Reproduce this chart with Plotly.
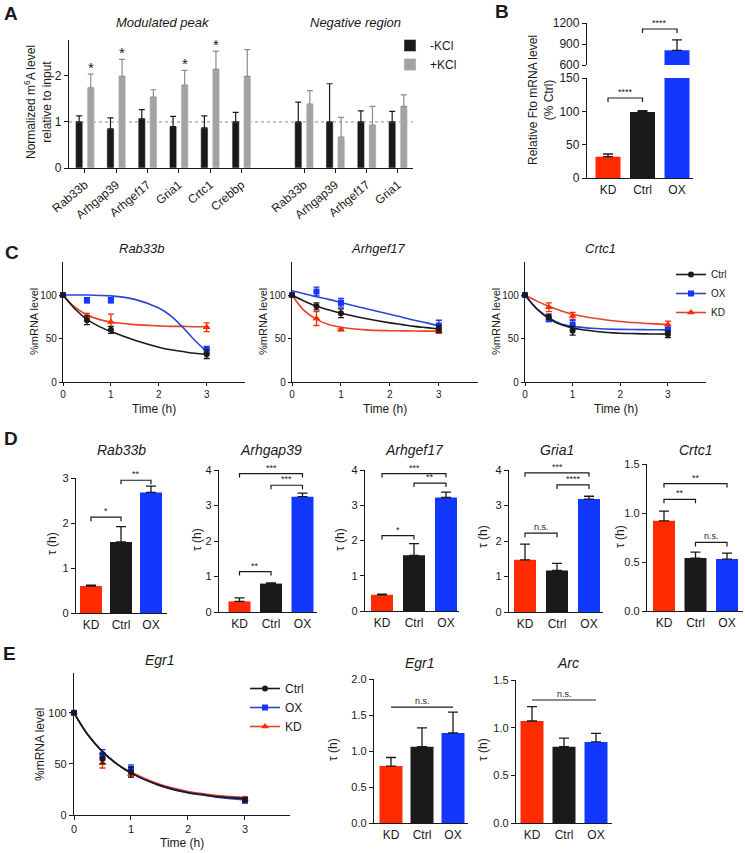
import plotly.graph_objects as go

W, H = 745, 853
FONT = "Liberation Sans, Arial, sans-serif"
INK = "#1a1a1a"
RED = "#ff2a00"
BLUE = "#1238ff"
GREY = "#a3a3a3"
LINE_RED = "#e8402c"
LINE_BLUE = "#2a45d6"

# ---------- A: m6A enrichment ----------
a_labels = ["Rab33b", "Arhgap39", "Arhgef17", "Gria1", "Crtc1", "Crebbp",
            "Rab33b", "Arhgap39", "Arhgef17", "Gria1"]
a_pos = [0, 1, 2, 3, 4, 5, 7, 8, 9, 10]
a_minus = [1.0, 0.85, 1.07, 0.9, 0.87, 1.0, 1.0, 1.0, 1.0, 1.0]
a_minus_err = [0.13, 0.24, 0.2, 0.22, 0.26, 0.21, 0.43, 0.83, 0.24, 0.23]
a_plus = [1.74, 1.99, 1.54, 1.8, 2.14, 1.99, 1.39, 0.67, 0.93, 1.34]
a_plus_err = [0.3, 0.37, 0.16, 0.32, 0.4, 0.58, 0.29, 0.43, 0.41, 0.25]
a_sig = ["*", "*", "", "*", "*", "", "", "", "", ""]

# ---------- B: Fto mRNA ----------
groups = ["KD", "Ctrl", "OX"]
b_vals = [32, 99, 810]
b_err = [4, 2, 150]

# ---------- C / E: decay time courses ----------
t_pts = [0, 0.5, 1, 3]
t_fit = [0, 0.25, 0.5, 0.75, 1, 1.5, 2, 2.25, 2.5, 2.75, 3]

rab33b_pts = {"Ctrl": [100, 71, 60, 32], "OX": [100, 94, 94, 37], "KD": [100, 76, 69, 63]}
rab33b_err = {"Ctrl": [0, 5, 4, 5], "OX": [0, 3, 3, 4], "KD": [0, 3, 9, 5]}
rab33b_fit = {"Ctrl": [100, 84, 72, 64, 58, 48, 40, 37, 35, 33, 32],
              "OX": [100, 100, 100, 99.5, 99, 95, 85, 76, 63, 48, 35],
              "KD": [100, 86, 77, 72, 69, 66, 64.5, 64, 64, 63.5, 63.5]}

arhgef17_pts = {"Ctrl": [100, 87, 79, 61], "OX": [100, 104, 91, 65], "KD": [100, 73, 60, 59]}
arhgef17_err = {"Ctrl": [0, 4, 5, 4], "OX": [0, 5, 5, 6], "KD": [0, 8, 1, 3]}
arhgef17_fit = {"Ctrl": [100, 93, 87, 83, 79, 73, 68, 66, 64, 62.5, 61],
                "OX": [105, 101.5, 98, 95, 91.5, 84.5, 78, 74.5, 71, 68, 64.5],
                "KD": [100, 82, 72, 66, 63, 60, 59, 58.8, 58.6, 58.5, 58.5]}

crtc1_pts = {"Ctrl": [100, 75, 59, 55], "OX": [100, 72, 66, 60], "KD": [100, 86, 76, 66]}
crtc1_err = {"Ctrl": [0, 3, 5, 4], "OX": [0, 2, 5, 3], "KD": [0, 5, 4, 4]}
crtc1_fit = {"Ctrl": [100, 84, 73, 66, 62, 58, 56, 55.7, 55.4, 55.2, 55],
             "OX": [100, 84, 74, 67, 64, 61.5, 60.5, 60.3, 60.2, 60.1, 60],
             "KD": [100, 93, 87, 82, 78, 73, 69.5, 68.5, 67.5, 66.8, 66]}

egr1_pts = {"Ctrl": [100, 55, 42, 15], "OX": [100, 59, 45, 14], "KD": [100, 51, 40, 16]}
egr1_err = {"Ctrl": [0, 5, 5, 2], "OX": [0, 5, 4, 2], "KD": [0, 5, 3, 2]}
egr1_fit = {"Ctrl": [100, 78, 62, 50, 41, 29, 22, 20, 18, 17, 16],
            "OX": [100, 78, 62, 50, 41, 29, 21.5, 19.5, 17.5, 16, 15],
            "KD": [100, 78, 62, 50, 42, 30, 23, 21, 19, 18, 17]}

# ---------- D: half-lives ----------
d_genes = ["Rab33b", "Arhgap39", "Arhgef17", "Gria1", "Crtc1"]
d_tau = [[0.6, 1.58, 2.68], [0.3, 0.8, 3.25], [0.46, 1.58, 3.22], [1.47, 1.17, 3.18], [0.92, 0.54, 0.53]]
d_err = [[0.02, 0.34, 0.14], [0.1, 0.02, 0.1], [0.02, 0.33, 0.15], [0.44, 0.2, 0.08], [0.1, 0.06, 0.06]]
d_ymax = [3, 4, 4, 4, 1.5]
d_sig = [[(0, 2, 3.2, "***"), (1, 2, 2.95, "**"), (0, 1, 2.13, "*")],
         [(0, 2, 3.9, "***"), (1, 2, 3.57, "***"), (0, 1, 1.14, "**")],
         [(0, 2, 3.9, "***"), (1, 2, 3.63, "**"), (0, 1, 2.14, "*")],
         [(0, 2, 3.92, "***"), (1, 2, 3.58, "****"), (0, 1, 2.22, "n.s.")],
         [(0, 2, 1.30, "**"), (0, 1, 1.14, "**"), (1, 2, 0.70, "n.s.")]]

# ---------- E: half-lives ----------
e_genes = ["Egr1", "Arc"]
e_tau = [[0.79, 1.06, 1.25], [1.07, 0.8, 0.85]]
e_err = [[0.12, 0.26, 0.29], [0.15, 0.09, 0.09]]
e_ymax = [2.0, 1.5]
e_ns = [1.61, 1.29]

bar_colors = [RED, INK, BLUE]
series_style = {"Ctrl": (INK, INK, "circle", 6),
                "OX": (BLUE, LINE_BLUE, "square", 6),
                "KD": (RED, LINE_RED, "triangle-up", 7)}

fig = go.Figure()
n_axes = [0]


def axis_style(**kw):
    base = dict(showline=True, linecolor=INK, linewidth=1.3, ticks="outside", ticklen=4,
                tickwidth=1.3, tickcolor=INK, showgrid=False, zeroline=False,
                tickfont=dict(size=11, color=INK), fixedrange=True)
    base.update(kw)
    return base


def add_axes(box, xkw, ykw):
    # box in pixels: left, top, right, bottom
    n_axes[0] += 1
    sfx = "" if n_axes[0] == 1 else str(n_axes[0])
    left, top, right, bottom = box
    fig.update_layout(**{
        "xaxis" + sfx: axis_style(domain=[left / W, right / W], anchor="y" + sfx, **xkw),
        "yaxis" + sfx: axis_style(domain=[1 - bottom / H, 1 - top / H], anchor="x" + sfx, **ykw),
    })
    return "x" + sfx, "y" + sfx


def text(xpx, ypx, s, size=12, angle=0, **kw):
    fig.add_annotation(x=xpx / W, y=1 - ypx / H, xref="paper", yref="paper", text=s,
                       showarrow=False, textangle=angle, font=dict(size=size, color=INK),
                       xanchor="center", yanchor="middle", **kw)


def bracket(xa, ya, i, j, y, label, unit_px, ends=True):
    d = 4 / unit_px
    path = f"M{i},{y - d} L{i},{y} L{j},{y} L{j},{y - d}" if ends else f"M{i},{y} L{j},{y}"
    fig.add_shape(type="path", path=path, xref=xa, yref=ya, line=dict(color=INK, width=1.2))
    fig.add_annotation(x=(i + j) / 2, y=y, xref=xa, yref=ya, text=label, showarrow=False,
                       yanchor="bottom", font=dict(size=9, color=INK), yshift=-1)


def tau_bars(xa, ya, vals, errs, width):
    fig.add_trace(go.Bar(x=[0, 1, 2], y=vals, width=width, xaxis=xa, yaxis=ya, showlegend=False,
                         marker=dict(color=bar_colors, line_width=0),
                         error_y=dict(type="data", array=errs, arrayminus=[0, 0, 0], symmetric=False,
                                      color=INK, thickness=1.3, width=5)))


def decay_panel(xa, ya, pts, errs, fit, legend=None):
    for name in ["KD", "OX", "Ctrl"]:
        mcol, lcol, sym, size = series_style[name]
        fig.add_trace(go.Scatter(x=t_fit, y=fit[name], mode="lines", line=dict(color=lcol, width=1.6, shape="spline"),
                                 xaxis=xa, yaxis=ya, showlegend=False, hoverinfo="skip"))
        fig.add_trace(go.Scatter(x=t_pts, y=pts[name], mode="markers", cliponaxis=False,
                                 marker=dict(color=mcol, symbol=sym, size=size),
                                 error_y=dict(type="data", array=errs[name], color=mcol, thickness=1.3, width=3),
                                 xaxis=xa, yaxis=ya, showlegend=False))
    if legend:
        for name in ["Ctrl", "OX", "KD"]:
            mcol, lcol, sym, size = series_style[name]
            fig.add_trace(go.Scatter(x=[None], y=[None], mode="lines+markers", name=name, legend=legend,
                                     line=dict(color=lcol, width=1.6), marker=dict(color=mcol, symbol=sym, size=size),
                                     xaxis=xa, yaxis=ya))


# ===== A =====
xa, ya = add_axes((69, 40, 413, 168),
                  dict(range=[-0.51, 10.48], tickvals=a_pos, ticktext=a_labels, tickangle=-40,
                       tickfont=dict(size=12, color=INK)),
                  dict(range=[0, 2.78], tickvals=[0, 1, 2], tickfont=dict(size=12, color=INK)))
fig.add_shape(type="line", x0=-0.51, x1=10.48, y0=1, y1=1, xref=xa, yref=ya, layer="below",
              line=dict(color="#888888", width=1, dash="dot"))
fig.add_trace(go.Bar(x=[p - 0.185 for p in a_pos], y=a_minus, width=0.23, name="-KCl", marker_color=INK,
                     error_y=dict(type="data", array=a_minus_err, arrayminus=[0] * 10, symmetric=False,
                                  color=INK, thickness=1.2, width=3),
                     xaxis=xa, yaxis=ya, legend="legend"))
fig.add_trace(go.Bar(x=[p + 0.185 for p in a_pos], y=a_plus, width=0.23, name="+KCl", marker_color=GREY,
                     error_y=dict(type="data", array=a_plus_err, arrayminus=[0] * 10, symmetric=False,
                                  color="#8c8c8c", thickness=1.2, width=3),
                     xaxis=xa, yaxis=ya, legend="legend"))
for p, v, e, s in zip(a_pos, a_plus, a_plus_err, a_sig):
    if s:
        fig.add_annotation(x=p + 0.185, y=v + e, xref=xa, yref=ya, text=s, showarrow=False,
                           yanchor="bottom", font=dict(size=15, color=INK), yshift=-4)
text(38, 102, "Normalized m<sup>6</sup>A level<br>relative to input", 12, -90)
text(163, 22, "<i>Modulated peak</i>", 13)
text(355, 22, "<i>Negative region</i>", 13)

# ===== B (broken axis) =====
b_c0, b_s = 608, 34.5
b_xr = [(587 - b_c0) / b_s, (693 - b_c0) / b_s]
xb_top, yb_top = add_axes((587, 23, 693, 65), dict(range=b_xr, visible=False),
                          dict(range=[600, 1200], tickvals=[600, 900, 1200], tickfont=dict(size=12, color=INK)))
xb, yb = add_axes((587, 78, 693, 178), dict(range=b_xr, tickvals=[0, 1, 2], ticktext=groups, ticks="",
                                            tickfont=dict(size=12, color=INK)),
                  dict(range=[0, 150], tickvals=[0, 50, 100, 150], tickfont=dict(size=12, color=INK)))
for xa_, ya_ in [(xb_top, yb_top), (xb, yb)]:
    fig.add_trace(go.Bar(x=[0, 1, 2], y=b_vals, width=25 / b_s, xaxis=xa_, yaxis=ya_, showlegend=False,
                         marker=dict(color=bar_colors, line_width=0),
                         error_y=dict(type="data", array=b_err, arrayminus=[0, 0, 0], symmetric=False,
                                      color=INK, thickness=1.3, width=5)))
bracket(xb, yb, 0, 1, 120, "****", 100 / 150)
bracket(xb_top, yb_top, 1, 2, 1114, "****", 42 / 600)
text(541, 100, "Relative Fto mRNA level<br>(% Ctrl)", 12, -90)

# ===== C =====
c_boxes = [(63, 262, 245, 382), (292, 262, 478, 382), (525, 262, 706, 382)]
c_data = [(rab33b_pts, rab33b_err, rab33b_fit), (arhgef17_pts, arhgef17_err, arhgef17_fit),
          (crtc1_pts, crtc1_err, crtc1_fit)]
c_titles = [("Rab33b", 142), ("Arhgef17", 378), ("Crtc1", 600)]
for k, (box, (p, e, f)) in enumerate(zip(c_boxes, c_data)):
    xa, ya = add_axes(box, dict(range=[0, 3.8], tickvals=[0, 1, 2, 3], ticklen=3, tickfont=dict(size=10, color=INK)),
                      dict(range=[0, 138], tickvals=[0, 50, 100], ticklen=3, tickfont=dict(size=10, color=INK)))
    decay_panel(xa, ya, p, e, f, legend="legend2" if k == 2 else None)
    text(box[0] - 29, 322, "%mRNA level", 11, -90)
    text((box[0] + box[2]) / 2, 409, "Time (h)", 12)
    text(c_titles[k][1], 248, f"<i>{c_titles[k][0]}</i>", 13)

# ===== D =====
d_boxes = [(76, 478, 167, 613), (219, 470, 317, 612), (365, 470, 459, 611), (509, 470, 603, 612), (647, 464, 743, 611)]
d_cat = [(91, 30), (239.5, 31.5), (382, 32), (525, 32), (664, 31.5)]
d_ytitle = [(52, 543), (197, 540), (340, 540), (483, 537), (620, 537)]
for k, box in enumerate(d_boxes):
    c0, s = d_cat[k]
    ymax = d_ymax[k]
    if ymax == 1.5:
        ykw = dict(range=[0, 1.5], tickvals=[0, 0.5, 1, 1.5], ticktext=["0.0", "0.5", "1.0", "1.5"])
    else:
        ykw = dict(range=[0, ymax], tickvals=list(range(ymax + 1)))
    xa, ya = add_axes(box, dict(range=[(box[0] - c0) / s, (box[2] - c0) / s], tickvals=[0, 1, 2],
                                ticktext=groups, ticks="", tickfont=dict(size=12, color=INK)), ykw)
    tau_bars(xa, ya, d_tau[k], d_err[k], 22 / s)
    unit_px = (box[3] - box[1]) / ymax
    for i, j, y, lab in d_sig[k]:
        bracket(xa, ya, i, j, y, lab, unit_px)
    text(d_ytitle[k][0], d_ytitle[k][1], "τ (h)", 12, -90)
    text(c0 + s, 450, f"<i>{d_genes[k]}</i>", 14)

# ===== E =====
xa, ya = add_axes((74, 673, 290, 815), dict(range=[0, 3.79], tickvals=[0, 1, 2, 3]),
                  dict(range=[0, 139], tickvals=[0, 50, 100]))
decay_panel(xa, ya, egr1_pts, egr1_err, egr1_fit, legend="legend3")
text(40, 745, "%mRNA level", 12, -90)
text(182, 843, "Time (h)", 12)
text(160, 660, "<i>Egr1</i>", 14)

e_boxes = [(374, 679, 468, 823), (516, 680, 612, 823)]
e_cat = [(391, 31), (532, 32)]
e_ytitle = [(333, 750), (483, 750)]
e_title_x = [420, 568]
for k, box in enumerate(e_boxes):
    c0, s = e_cat[k]
    ymax = e_ymax[k]
    ticks_ = [v * 0.5 for v in range(int(ymax / 0.5) + 1)]
    xa, ya = add_axes(box, dict(range=[(box[0] - c0) / s, (box[2] - c0) / s], tickvals=[0, 1, 2],
                                ticktext=groups, ticks="", tickfont=dict(size=12, color=INK)),
                      dict(range=[0, ymax], tickvals=ticks_, ticktext=[f"{v:.1f}" for v in ticks_]))
    tau_bars(xa, ya, e_tau[k], e_err[k], 23 / s)
    bracket(xa, ya, 0, 2, e_ns[k], "n.s.", (box[3] - box[1]) / ymax, ends=False)
    text(e_ytitle[k][0], e_ytitle[k][1], "τ (h)", 12, -90)
    text(e_title_x[k], 663, f"<i>{e_genes[k]}</i>", 14)

# panel letters
for lab, x, y in [("A", 11, 13), ("B", 502, 11), ("C", 12, 252), ("D", 11, 438), ("E", 9, 653)]:
    text(x, y, f"<b>{lab}</b>", 19)

leg = dict(bgcolor="rgba(0,0,0,0)", borderwidth=0, xanchor="left", yanchor="top", tracegroupgap=0)
fig.update_layout(
    width=W, height=H, margin=dict(l=0, r=0, t=0, b=0, autoexpand=False),
    paper_bgcolor="white", plot_bgcolor="white",
    font=dict(family=FONT, size=11, color=INK),
    barmode="overlay",
    legend=dict(leg, x=390 / W, y=1 - 31 / H, font=dict(size=12)),
    legend2=dict(leg, x=671 / W, y=1 - 260 / H, font=dict(size=10)),
    legend3=dict(leg, x=245 / W, y=1 - 674 / H, font=dict(size=12)),
)

# drop the default page margin so the figure starts at the window corner
fig.write_html("out.html", config={"displayModeBar": False},
               post_script="document.body.style.margin='0';")
